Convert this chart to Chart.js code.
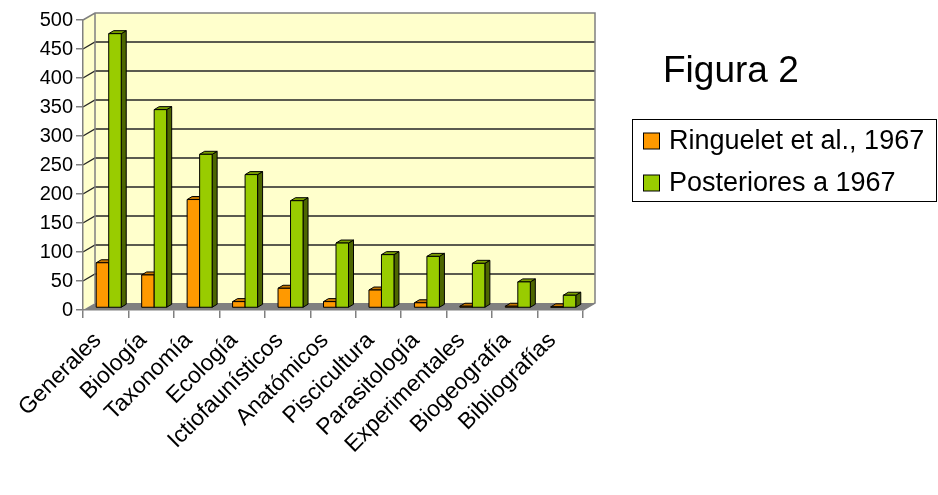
<!DOCTYPE html>
<html>
<head>
<meta charset="utf-8">
<script src="https://cdn.jsdelivr.net/npm/chart.js@4.4.0/dist/chart.umd.min.js"></script>
<style>
  html, body { margin: 0; padding: 0; background: #fff; }
</style>
</head>
<body>
<canvas id="fig2" width="938" height="495"></canvas>
<script>
// Data
const categories = ['Generales', 'Biología', 'Taxonomía', 'Ecología', 'Ictiofaunísticos', 'Anatómicos',
  'Piscicultura', 'Parasitología', 'Experimentales', 'Biogeografía', 'Bibliografías'];
const ringuelet1967 = [78, 57, 187, 11, 34, 11, 31, 9, 3, 3, 2];
const posteriores1967 = [473, 342, 265, 230, 185, 112, 92, 89, 77, 45, 22];
const seriesNames = ['Ringuelet et al., 1967', 'Posteriores a 1967'];
const yMax = 500;
const yStep = 50;
const figureTitle = 'Figura 2';

const FONT = '"Liberation Sans", Arial, sans-serif';

// 3D look: wall depth and bar depth
const WALL_DX = 12, WALL_DY = 7;
const BAR_SHIFT_X = 3, BAR_SHIFT_Y = -2;
const BAR_DX = 5, BAR_DY = 3;

const faces = [
  { front: '#FF9900', top: '#C77700', side: '#8A5200' },
  { front: '#99CC00', top: '#7A9F00', side: '#4D6600' },
];

const threeD = {
  id: 'threeD',
  beforeDraw(chart) {
    const { ctx, chartArea: a, scales: { y } } = chart;
    ctx.save();
    ctx.lineWidth = 1;
    ctx.strokeStyle = '#808080';
    ctx.fillStyle = '#FFFFCC';
    // back wall
    ctx.fillRect(a.left + WALL_DX, a.top - WALL_DY, a.right - a.left, a.bottom - a.top);
    // left wall
    ctx.beginPath();
    ctx.moveTo(a.left, a.top);
    ctx.lineTo(a.left + WALL_DX, a.top - WALL_DY);
    ctx.lineTo(a.left + WALL_DX, a.bottom - WALL_DY);
    ctx.lineTo(a.left, a.bottom);
    ctx.closePath();
    ctx.fill();
    // floor
    ctx.fillStyle = '#808080';
    ctx.beginPath();
    ctx.moveTo(a.left, a.bottom);
    ctx.lineTo(a.right, a.bottom);
    ctx.lineTo(a.right + WALL_DX, a.bottom - WALL_DY);
    ctx.lineTo(a.left + WALL_DX, a.bottom - WALL_DY);
    ctx.closePath();
    ctx.fill();

    // grid lines on walls
    ctx.strokeStyle = '#262626';
    ctx.lineWidth = 1.3;
    for (let v = yStep; v < yMax; v += yStep) {
      const py = y.getPixelForValue(v);
      ctx.beginPath();
      ctx.moveTo(a.left, py);
      ctx.lineTo(a.left + WALL_DX, py - WALL_DY);
      ctx.lineTo(a.right + WALL_DX, py - WALL_DY);
      ctx.stroke();
    }

    // wall edges
    ctx.strokeStyle = '#808080';
    ctx.lineWidth = 1.5;
    ctx.beginPath();
    ctx.moveTo(a.left, a.top);
    ctx.lineTo(a.left + WALL_DX, a.top - WALL_DY);
    ctx.lineTo(a.right + WALL_DX, a.top - WALL_DY);
    ctx.lineTo(a.right + WALL_DX, a.bottom - WALL_DY);
    ctx.lineTo(a.right, a.bottom);
    ctx.moveTo(a.left + WALL_DX, a.top - WALL_DY);
    ctx.lineTo(a.left + WALL_DX, a.bottom - WALL_DY);
    ctx.stroke();
    ctx.restore();
  },
  beforeDatasetsDraw(chart) {
    const { ctx } = chart;
    const metas = chart.data.datasets.map((d, i) => chart.getDatasetMeta(i));
    ctx.save();
    ctx.lineWidth = 1;
    ctx.strokeStyle = '#000';
    ctx.lineJoin = 'round';
    for (let i = 0; i < categories.length; i++) {
      metas.forEach((meta, di) => {
        const el = meta.data[i];
        const { x, y, base, width } = el.getProps(['x', 'y', 'base', 'width'], true);
        const l = x - width / 2 + BAR_SHIFT_X;
        const r = x + width / 2 + BAR_SHIFT_X;
        const t = y + BAR_SHIFT_Y;
        const b = base + BAR_SHIFT_Y;
        const f = faces[di];
        // side face
        ctx.fillStyle = f.side;
        ctx.beginPath();
        ctx.moveTo(r, t);
        ctx.lineTo(r + BAR_DX, t - BAR_DY);
        ctx.lineTo(r + BAR_DX, b - BAR_DY);
        ctx.lineTo(r, b);
        ctx.closePath();
        ctx.fill();
        ctx.stroke();
        // top face
        ctx.fillStyle = f.top;
        ctx.beginPath();
        ctx.moveTo(l, t);
        ctx.lineTo(l + BAR_DX, t - BAR_DY);
        ctx.lineTo(r + BAR_DX, t - BAR_DY);
        ctx.lineTo(r, t);
        ctx.closePath();
        ctx.fill();
        ctx.stroke();
        // front face
        ctx.fillStyle = f.front;
        ctx.fillRect(l, t, r - l, b - t);
        ctx.strokeRect(l, t, r - l, b - t);
      });
    }
    ctx.restore();
    return false; // bars are drawn above
  },
  afterDraw(chart) {
    const { ctx } = chart;
    ctx.save();
    // title
    ctx.fillStyle = '#000';
    ctx.font = '37px ' + FONT;
    ctx.textBaseline = 'alphabetic';
    ctx.textAlign = 'left';
    ctx.fillText(figureTitle, 663, 82);
    // legend
    ctx.lineWidth = 1;
    ctx.strokeStyle = '#000';
    ctx.strokeRect(632.5, 119.5, 304, 82);
    ctx.font = '27px ' + FONT;
    ctx.textBaseline = 'middle';
    chart.data.datasets.forEach((ds, i) => {
      const cy = 141 + i * 42;
      ctx.fillStyle = ds.backgroundColor;
      ctx.fillRect(643.5, cy - 8, 16, 16);
      ctx.strokeRect(643.5, cy - 8, 16, 16);
      ctx.fillStyle = '#000';
      ctx.fillText(ds.label, 669, cy + 1);
    });
    ctx.restore();
  },
};

new Chart(document.getElementById('fig2'), {
  type: 'bar',
  data: {
    labels: categories,
    datasets: [
      {
        label: seriesNames[0],
        data: ringuelet1967,
        backgroundColor: faces[0].front,
        categoryPercentage: 0.55,
        barPercentage: 1.0,
      },
      {
        label: seriesNames[1],
        data: posteriores1967,
        backgroundColor: faces[1].front,
        categoryPercentage: 0.55,
        barPercentage: 1.0,
      },
    ],
  },
  options: {
    responsive: false,
    animation: false,
    devicePixelRatio: 1,
    layout: {
      padding: { top: 20, right: 355, left: 0, bottom: 0 },
    },
    scales: {
      y: {
        min: 0,
        max: yMax,
        afterFit: (scale) => { scale.width = 83; },
        grid: {
          drawOnChartArea: false,
          color: '#808080',
          lineWidth: 1.5,
          tickLength: 7,
        },
        border: { color: '#808080', width: 1.5 },
        ticks: {
          stepSize: yStep,
          padding: 3,
          color: '#000',
          font: { family: FONT, size: 20 },
        },
      },
      x: {
        afterFit: (scale) => { scale.height = 185; },
        grid: {
          offset: true,
          drawOnChartArea: false,
          color: '#808080',
          lineWidth: 1.5,
          tickLength: 8,
        },
        border: { color: '#808080', width: 1.5 },
        ticks: {
          autoSkip: false,
          minRotation: 45,
          maxRotation: 45,
          padding: 9,
          labelOffset: -8,
          color: '#000',
          font: { family: FONT, size: 23 },
        },
      },
    },
    plugins: {
      legend: { display: false },
      tooltip: { enabled: false },
    },
  },
  plugins: [threeD],
});
</script>
</body>
</html>
